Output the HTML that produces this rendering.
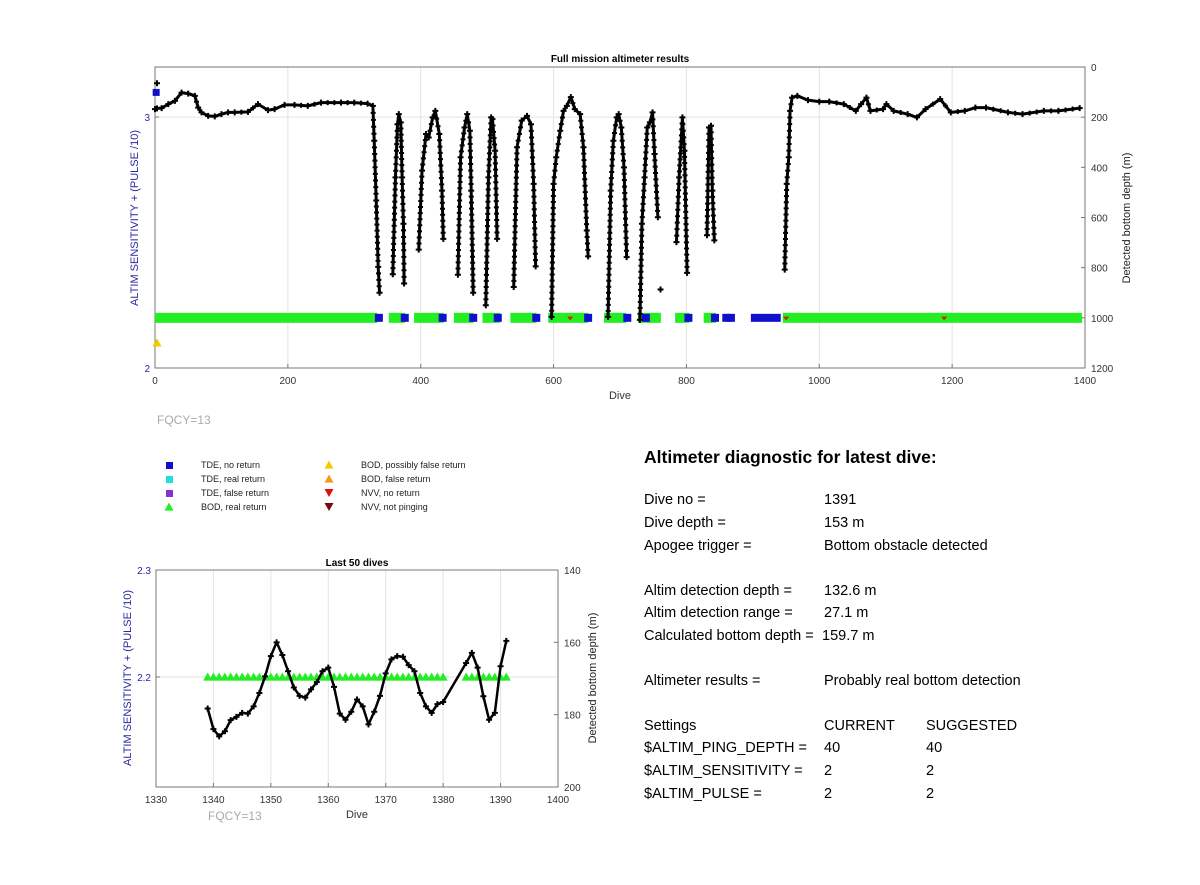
<!DOCTYPE html>
<html><head><meta charset="utf-8"><style>
body{margin:0;background:#fff;font-family:"Liberation Sans",Arial,sans-serif;}
#wrap{position:relative;width:1200px;height:885px;overflow:hidden;}
.t{position:absolute;font-size:14.5px;color:#000;white-space:nowrap;}
</style></head><body>
<div id="wrap">
<svg id="svg" width="1200" height="885" style="position:absolute;left:0;top:0"></svg>
<div class="t" style="left:644px;top:447px;font-size:17.5px;font-weight:bold">Altimeter diagnostic for latest dive:</div>
<div id="panel"></div>
</div>
<script>
// ---------- data ----------
const topDives=[0,3,10,20,30,40,50,60,65,70,80,90,100,110,120,140,155,170,180,195,210,230,250,280,300,320,328,330,333,336,338,null,
358,362,365,367,370,372,374,375,null,
397,402,408,412,418,422,428,432,434,null,
456,460,466,470,474,476,479,null,
498,502,506,508,512,515,null,
540,545,552,560,566,570,573,null,
597,600,604,610,615,620,626,632,640,645,650,652,null,
682,686,690,695,698,702,706,710,null,
730,733,737,741,745,749,752,757,null,
785,789,794,797,801,null,
831,834,837,839,842,null,
948,951,954,956,959,967,983,1000,1015,1037,1055,1063,1071,1077,1096,1101,1112,1133,1147,1160,1182,1198,1219,1235,1251,1284,1306,1338,1360,1392];
const topDepths=[168,165,164,148,135,102,106,115,162,181,195,197,188,181,181,179,148,172,168,151,151,155,142,142,142,146,155,294,532,797,900,null,
826,440,228,188,221,440,625,863,null,
728,413,267,281,201,175,267,493,685,null,
828,360,241,188,254,493,900,null,
950,440,201,208,334,685,null,
877,320,214,195,228,466,795,null,
996,466,360,254,175,155,120,168,188,320,652,755,null,
996,493,294,201,188,241,400,758,null,
1008,625,440,241,221,181,347,599,null,
698,440,201,334,821,null,
671,241,234,493,691,null,
808,466,360,175,122,115,132,138,138,148,175,148,122,175,168,148,175,188,201,168,128,181,175,162,162,181,188,175,175,164];
const outlierDives=[761];
const outlierDepths=[887];
const greenStart=[0,352,390,450,493,535,592,676,727,783,826,945];
const greenEnd=[330,372,430,475,515,570,648,705,757,800,840,1391];
const blueDives=[337,376,433,479,516,574,652,711,739,803,843,860,867];
const blueBarStart=[897];
const blueBarEnd=[942];
const xTicksTop=[0,200,400,600,800,1000,1200,1400];
const yTicksTopR=[0,200,400,600,800,1000,1200];
const yTicksTopL=[2,3];

const botDives=[1339,1340,1341,1342,1343,1344,1345,1346,1347,1348,1349,1350,1351,1352,1353,1354,1355,1356,1357,1358,1359,1360,1361,1362,1363,1364,1365,1366,1367,1368,1369,1370,1371,1372,1373,1374,1375,1376,1377,1378,1379,1380,1384,1385,1386,1387,1388,1389,1390,1391];
const botDepths=[178.3,184,186,184.6,181.5,180.6,179.5,179.7,177.7,174,169.4,163.8,160,163.5,168,172.5,174.8,175.3,173,171,168,167,172.3,179.7,181.4,179.2,175.8,177.7,182.7,179.2,174.8,168.6,164.7,163.8,164,166.3,168,174,177.7,179.5,177.1,176.5,165.7,162.9,167,174.9,181.4,179.5,166.6,159.6];
const botGreen=[1339,1340,1341,1342,1343,1344,1345,1346,1347,1348,1349,1350,1351,1352,1353,1354,1355,1356,1357,1358,1359,1360,1361,1362,1363,1364,1365,1366,1367,1368,1369,1370,1371,1372,1373,1374,1375,1376,1377,1378,1379,1380,1384,1385,1386,1387,1388,1389,1390,1391];
const xTicksBot=[1330,1340,1350,1360,1370,1380,1390,1400];
const yTicksBotR=[140,160,180,200];
const yTicksBotL=[2.2,2.3];

// ---------- helpers ----------
const NS='http://www.w3.org/2000/svg';
const svg=document.getElementById('svg');
function mk(tag,attrs,parent){const e=document.createElementNS(NS,tag);for(const k in attrs)e.setAttribute(k,attrs[k]);(parent||svg).appendChild(e);return e;}
function txt(x,y,s,attrs){const e=mk('text',Object.assign({x:x,y:y,'font-family':'Liberation Sans, Arial, sans-serif','font-size':10},attrs||{}));e.textContent=s;return e;}

function drawAxes(o){
  const g=mk('g',{});
  
  
  o.xt.forEach(v=>{const x=o.sx(v);if(x>o.x0+1&&x<o.x1-1)mk('line',{x1:x,x2:x,y1:o.y0,y2:o.y1,stroke:'#e3e3e3'},g);});
  o.gridY.forEach(y=>mk('line',{x1:o.x0,x2:o.x1,y1:y,y2:y,stroke:'#e3e3e3'},g));
  mk('rect',{x:o.x0,y:o.y0,width:o.x1-o.x0,height:o.y1-o.y0,fill:'none',stroke:'#777','stroke-width':1},g);
  o.xt.forEach(v=>{const x=o.sx(v);mk('line',{x1:x,x2:x,y1:o.y1,y2:o.y1-4,stroke:'#777'},g);
    const t=txt(x,o.y1+16,String(v),{'text-anchor':'middle',fill:'#333'});g.appendChild(t);
    });
  o.yr.forEach(v=>{const y=o.syr(v);mk('line',{x1:o.x1,x2:o.x1-4,y1:y,y2:y,stroke:'#777'},g);
    const t=txt(o.x1+6,y+4,String(v),{fill:'#333'});g.appendChild(t);
    });
  o.yl.forEach(v=>{const y=o.syl(v);mk('line',{x1:o.x0,x2:o.x0+4,y1:y,y2:y,stroke:'#777'},g);
    const t=txt(o.x0-5,y+4,String(v),{'text-anchor':'end',fill:'#2828a0'});g.appendChild(t);
    });
  return g;
}
function cross(g,x,y,s){mk('path',{d:`M${x-s},${y}H${x+s}M${x},${y-s}V${y+s}`,stroke:'#000','stroke-width':2},g);}
function tri(g,x,y,s,fill){mk('path',{d:`M${x-s},${y+s*0.8}L${x+s},${y+s*0.8}L${x},${y-s}Z`,fill:fill},g);}

// ---------- top plot ----------
const T={x0:155,x1:1085,y0:67,y1:368};
const tsx=d=>T.x0+d*(T.x1-T.x0)/1400;
const tsy=m=>T.y0+m*(T.y1-T.y0)/1200;
const tsl=v=>T.y1-(v-2)*251;
drawAxes({name:'top-axes',x0:T.x0,x1:T.x1,y0:T.y0,y1:T.y1,sx:tsx,syr:tsy,syl:tsl,xt:xTicksTop,yr:yTicksTopR,yl:yTicksTopL,gridY:[tsy(200)]});
txt(620,62,'Full mission altimeter results',{'text-anchor':'middle','font-weight':'bold','font-size':10});
txt(620,399,'Dive',{'text-anchor':'middle',fill:'#333','font-size':11});
{const t=txt(0,0,'ALTIM SENSITIVITY + (PULSE /10)',{'text-anchor':'middle',fill:'#2828a0','font-size':11,transform:'translate(138,218) rotate(-90)'});}
{const t=txt(0,0,'Detected bottom depth (m)',{'text-anchor':'middle',fill:'#222','font-size':11,transform:'translate(1130,218) rotate(-90)'});}
txt(157,424,'FQCY=13',{fill:'#aaa','font-size':12});

const gMarks=mk('g',{});
greenStart.forEach((s,i)=>{const r=mk('rect',{x:tsx(s),y:tsy(1000)-5,width:tsx(greenEnd[i])-tsx(s)+3,height:10,fill:'#22ee22'},gMarks);});
blueDives.forEach(d=>{const r=mk('rect',{x:tsx(d)-4,y:tsy(1000)-4,width:8,height:8,fill:'#1010cc'},gMarks);});
blueBarStart.forEach((s,i)=>{const r=mk('rect',{x:tsx(s),y:tsy(1000)-4,width:tsx(blueBarEnd[i])-tsx(s),height:8,fill:'#1010cc'},gMarks);});
mk('rect',{x:tsx(1)-3,y:tsl(3.1)-3,width:7,height:7,fill:'#1010cc'},gMarks);
tri(gMarks,tsx(3),tsl(2.1),4.5,'#f5c800');
[625,950,1188].forEach(d=>mk('path',{d:`M${tsx(d)-3},${tsy(995)}L${tsx(d)+3},${tsy(995)}L${tsx(d)},${tsy(1010)}Z`,fill:'#cc2200'},gMarks));

const gLine=mk('g',{});
let seg=[];
function flush(){if(seg.length>1){
  mk('polyline',{points:seg.map(p=>p.join(',')).join(' '),fill:'none',stroke:'#000','stroke-width':3,'stroke-linejoin':'round'},gLine);
  for(let k=1;k<seg.length;k++){const a=seg[k-1],b=seg[k];const len=Math.hypot(b[0]-a[0],b[1]-a[1]);const n=Math.floor(len/6);
    for(let j=1;j<n;j++)cross(gLine,a[0]+(b[0]-a[0])*j/n,a[1]+(b[1]-a[1])*j/n,2.5);}
 }seg=[];}
topDives.forEach((d,i)=>{if(d===null){flush();return;}const p=[tsx(d),tsy(topDepths[i])];seg.push(p);cross(gLine,p[0],p[1],3);});
flush();
outlierDives.forEach((d,i)=>cross(gLine,tsx(d),tsy(outlierDepths[i]),3));
cross(gLine,tsx(3),tsy(65),3);

// ---------- bottom plot ----------
const B={x0:156,x1:558,y0:570,y1:787};
const bsx=d=>B.x0+(d-1330)*(B.x1-B.x0)/70;
const bsy=m=>B.y0+(m-140)*(B.y1-B.y0)/60;
const bsl=v=>B.y0+(2.3-v)*1070;
drawAxes({name:'bottom-axes',x0:B.x0,x1:B.x1,y0:B.y0,y1:B.y1,sx:bsx,syr:bsy,syl:bsl,xt:xTicksBot,yr:yTicksBotR,yl:yTicksBotL,gridY:[bsl(2.2)]});
txt(357,566,'Last 50 dives',{'text-anchor':'middle','font-weight':'bold','font-size':10});
txt(357,818,'Dive',{'text-anchor':'middle',fill:'#333','font-size':11});
txt(208,820,'FQCY=13',{fill:'#aaa','font-size':12});
{const t=txt(0,0,'ALTIM SENSITIVITY + (PULSE /10)',{'text-anchor':'middle',fill:'#2828a0','font-size':11,transform:'translate(131,678) rotate(-90)'});}
{const t=txt(0,0,'Detected bottom depth (m)',{'text-anchor':'middle',fill:'#222','font-size':11,transform:'translate(596,678) rotate(-90)'});}
const gG=mk('g',{});
botGreen.forEach(d=>tri(gG,bsx(d),bsl(2.2),4.5,'#22ee22'));
const gB=mk('g',{});
mk('polyline',{points:botDives.map((d,i)=>bsx(d)+','+bsy(botDepths[i])).join(' '),fill:'none',stroke:'#000','stroke-width':2.5},gB);
botDives.forEach((d,i)=>cross(gB,bsx(d),bsy(botDepths[i]),3));

// ---------- legend ----------
const leg=[[169,201,465,'sq','#1010cc','TDE, no return'],[169,201,479,'sq','#22dddd','TDE, real return'],[169,201,493,'sq','#8833cc','TDE, false return'],[169,201,507,'tri','#22ee22','BOD, real return'],
[329,361,465,'tri','#f5c800','BOD, possibly false return'],[329,361,479,'tri','#f59a20','BOD, false return'],[329,361,493,'dtri','#dd1111','NVV, no return'],[329,361,507,'dtri','#7a0a0a','NVV, not pinging']];
const gL=mk('g',{});
leg.forEach(l=>{const [mx,tx,y,sh,c,lab]=l;
  if(sh==='sq')mk('rect',{x:mx-3,y:y-3,width:7,height:7,fill:c},gL);
  else if(sh==='tri')tri(gL,mx,y,4.5,c);
  else mk('path',{d:`M${mx-4.5},${y-4}L${mx+4.5},${y-4}L${mx},${y+4}Z`,fill:c},gL);
  const t=txt(tx,y+3,lab,{'font-size':9,fill:'#222'});gL.appendChild(t);
  });

// ---------- text panel ----------
const rows=[[501,'Dive no =','1391',''],[524,'Dive depth =','153 m',''],[547,'Apogee trigger =','Bottom obstacle detected',''],
[592,'Altim detection depth =','132.6 m',''],[614,'Altim detection range =','27.1 m',''],[637,'Calculated bottom depth =','159.7 m',''],
[682,'Altimeter results =','Probably real bottom detection',''],
[727,'Settings','CURRENT','SUGGESTED'],[749,'$ALTIM_PING_DEPTH =','40','40'],[772,'$ALTIM_SENSITIVITY =','2','2'],[795,'$ALTIM_PULSE =','2','2']];
const panel=document.getElementById('panel');
rows.forEach(r=>{[[644,r[1]],[r[0]===637?822:824,r[2]],[926,r[3]]].forEach(c=>{if(!c[1])return;
  const d=document.createElement('div');d.className='t';d.style.left=c[0]+'px';d.style.top=(r[0]-9)+'px';d.textContent=c[1];
  panel.appendChild(d);});});
</script>
</body></html>
